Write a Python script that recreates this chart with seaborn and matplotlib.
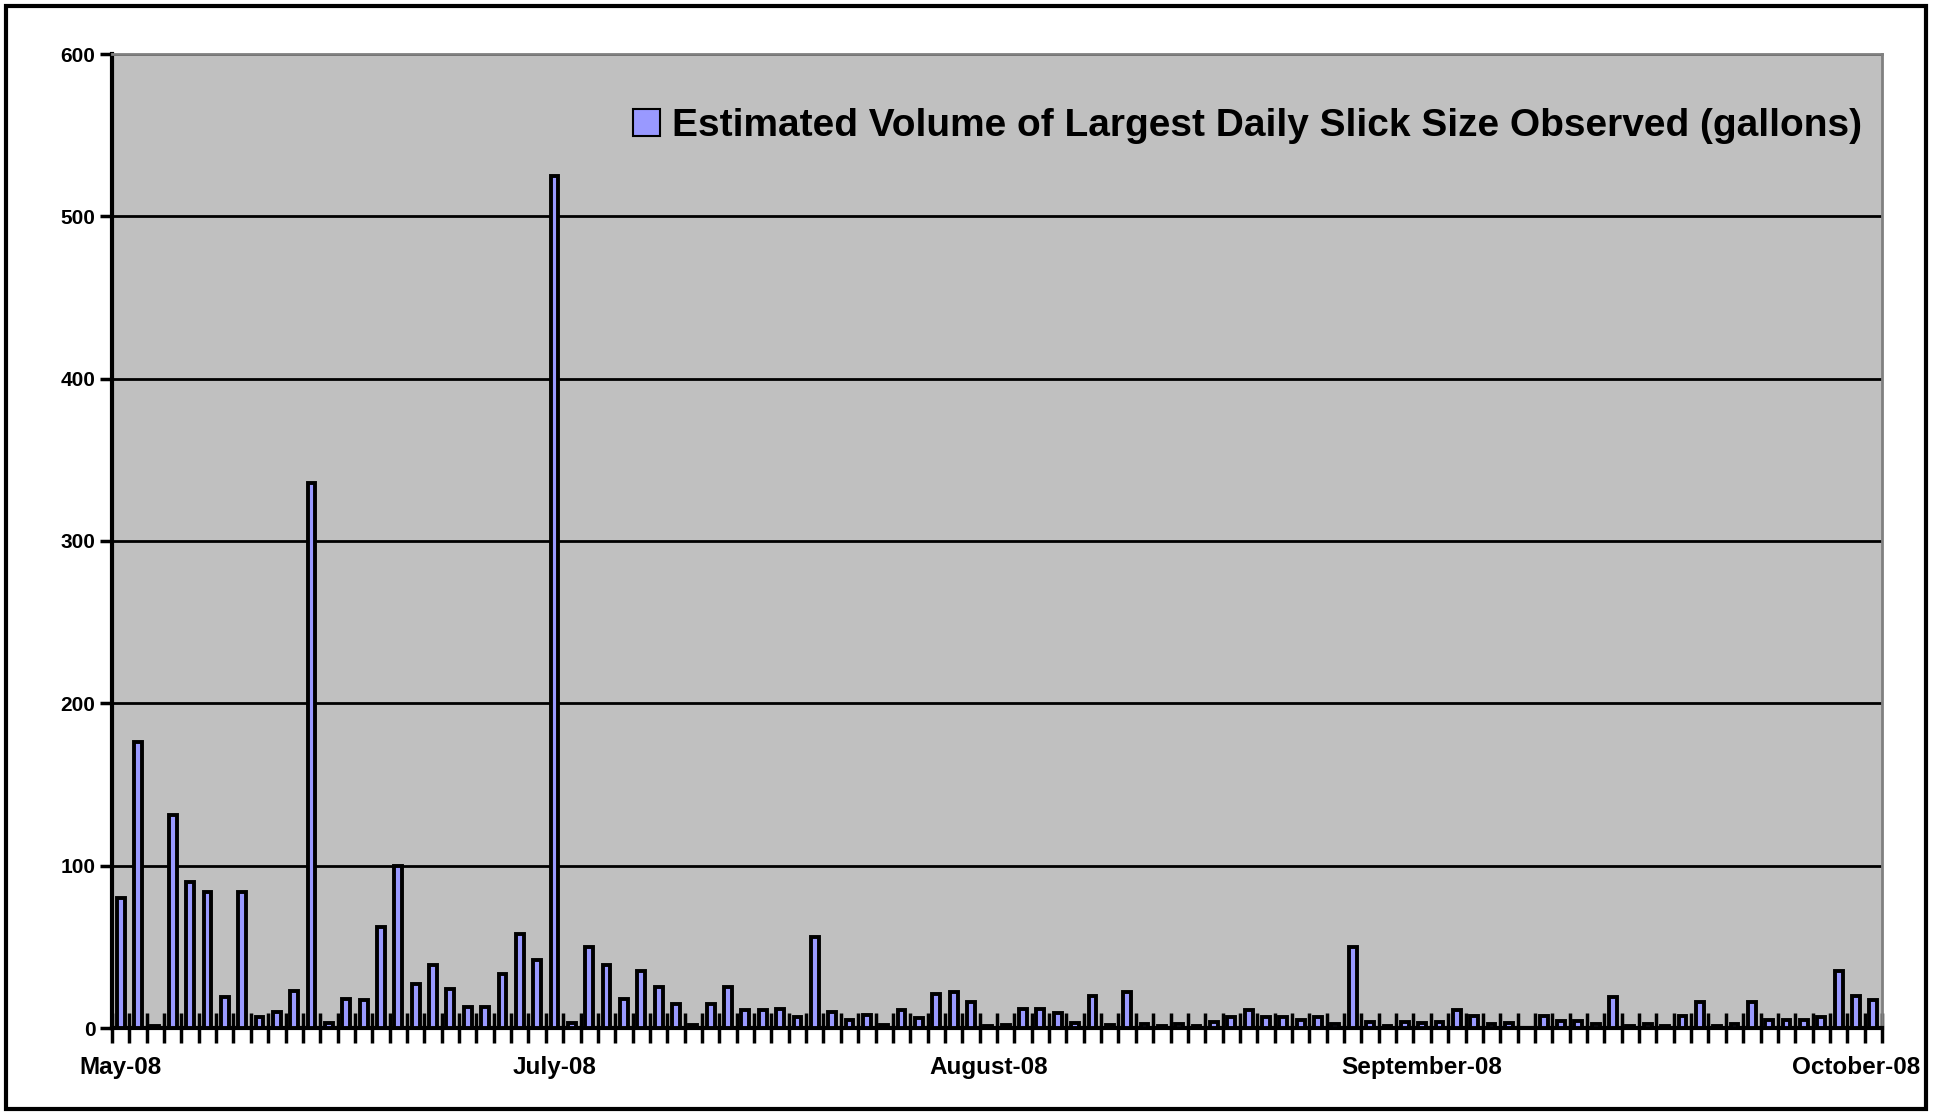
import numpy as np
import pandas as pd
import matplotlib
matplotlib.use('Agg')
import matplotlib.pyplot as plt
from matplotlib.patches import Patch, Rectangle
import seaborn as sns

# largest daily slick size observed (gallons), one value per observation
volumes = [80, 176, 1, 131, 90, 84, 19, 84, 7, 10,
           23, 336, 3, 18, 17, 62, 100, 27, 39, 24,
           13, 13, 33, 58, 42, 525, 3, 50, 39, 18,
           35, 25, 15, 2, 15, 25, 11, 11, 12, 7,
           56, 10, 5, 8, 2, 11, 6, 21, 22, 16,
           1.5, 2, 12, 12, 9, 3, 20, 2, 22, 2.5,
           1.5, 2.5, 1.5, 3.5, 7, 11, 7, 7, 5, 7,
           2.5, 50, 4, 1.5, 4, 3, 4, 11, 7.5, 2.5,
           3, 0, 7.5, 4.5, 4.5, 2.5, 19, 1.5, 2.5, 1.5,
           7.5, 16, 1.5, 2.5, 16, 5, 5, 5, 6.5, 35,
           20, 17]
obs = list(range(len(volumes)))
month_labels = ['May-08', 'July-08', 'August-08', 'September-08', 'October-08']
month_pos = [0, 25, 50, 75, 100]
y_ticks = [0, 100, 200, 300, 400, 500, 600]
series_name = 'Estimated Volume of Largest Daily Slick Size Observed (gallons)'

df = pd.DataFrame({'obs': obs, 'volume': volumes})

sns.set_style('white')
plt.rcParams['font.family'] = ['Liberation Sans', 'DejaVu Sans']
plt.rcParams['font.weight'] = 'bold'
plt.rcParams['text.color'] = 'black'
plt.rcParams['xtick.color'] = 'black'
plt.rcParams['ytick.color'] = 'black'

fig = plt.figure(figsize=(19.38, 11.15), dpi=100)
ax = fig.add_axes([112/1938, 1 - 1028/1115, (1882-112)/1938, (1028-54)/1115])
ax.set_facecolor('#C0C0C0')

bar_color = '#9999FF'
sns.barplot(data=df, x='obs', y='volume', color=bar_color, edgecolor='black',
            linewidth=2.8, width=0.45, saturation=1, ax=ax, zorder=3)

ax.set_xlim(-0.5, len(volumes) - 0.5)
ax.set_ylim(0, 600)
ax.set_xlabel('')
ax.set_ylabel('')

ax.set_yticks(y_ticks)
ax.set_yticklabels([str(v) for v in y_ticks], fontsize=15, fontweight='bold')
ax.tick_params(axis='y', left=True, direction='out', length=9, width=2.5, color='black', pad=3)
ax.yaxis.grid(True, color='black', linewidth=2)
ax.set_axisbelow(True)

ax.set_xticks(month_pos)
ax.set_xticklabels(month_labels, fontsize=17.5, fontweight='bold')
ax.tick_params(axis='x', which='major', bottom=True, length=0, pad=20)
ax.set_xticks(np.arange(-0.5, len(volumes), 1), minor=True)
ax.tick_params(axis='x', which='minor', bottom=True, direction='inout',
               length=22, width=2.5, color='black')

for side in ['left', 'bottom']:
    ax.spines[side].set_color('black')
    ax.spines[side].set_linewidth(3)
for side in ['top', 'right']:
    ax.spines[side].set_color('#808080')
    ax.spines[side].set_linewidth(2)

handle = Patch(facecolor=bar_color, edgecolor='black', linewidth=1.5)
ax.legend([handle], [series_name], loc='upper right', bbox_to_anchor=(1.0085, 0.98),
          frameon=False, prop={'size': 28, 'weight': 'bold'},
          handlelength=0.7, handleheight=0.7, handletextpad=0.3)

fig.patches.append(Rectangle((6/1938, 6/1115), 1920/1938, 1103/1115,
                             transform=fig.transFigure, fill=False,
                             edgecolor='black', linewidth=3))

fig.savefig('out.png', dpi=100)
